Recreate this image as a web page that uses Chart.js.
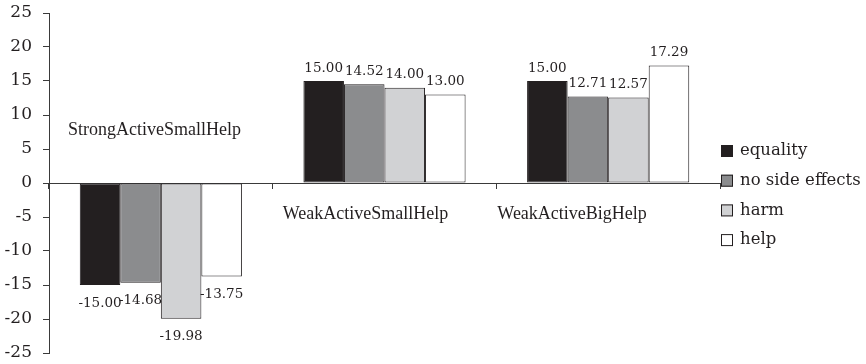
<!DOCTYPE html>
<html>
<head>
<meta charset="utf-8">
<script src="https://cdn.jsdelivr.net/npm/chart.js@4/dist/chart.umd.min.js"></script>
<style>
  html, body { margin: 0; padding: 0; background: #ffffff; }
  #wrap { width: 866px; height: 364px; }
</style>
</head>
<body>
<div id="wrap"><canvas id="c" width="866" height="364"></canvas></div>
<script>
// Condition names along the category axis
const categories = ['StrongActiveSmallHelp', 'WeakActiveSmallHelp', 'WeakActiveBigHelp'];

// One series per principle
const seriesNames = ['equality', 'no side effects', 'harm', 'help'];
const equality      = [-15.00, 15.00, 15.00];
const noSideEffects = [-14.68, 14.52, 12.71];
const harm          = [-19.98, 14.00, 12.57];
const help          = [-13.75, 13.00, 17.29];

// Value axis ticks
const yTicks = [-25, -20, -15, -10, -5, 0, 5, 10, 15, 20, 25];

const fills = ['#231f20', '#8b8c8e', '#d1d2d4', '#ffffff'];
const ink = '#231f20';
const serifNum = '"DejaVu Serif", serif';
const serifText = '"Liberation Serif", "Times New Roman", serif';

const seriesValues = [equality, noSideEffects, harm, help];

// Value labels at the end of each bar
const valueLabels = {
  id: 'valueLabels',
  afterDatasetsDraw(chart) {
    const ctx = chart.ctx;
    ctx.save();
    ctx.font = '13.5px ' + serifNum;
    ctx.fillStyle = ink;
    ctx.textAlign = 'center';
    ctx.textBaseline = 'middle';
    chart.data.datasets.forEach((ds, i) => {
      chart.getDatasetMeta(i).data.forEach((bar, j) => {
        const v = ds.data[j];
        const y = v >= 0 ? bar.y - 13 : bar.y + 18;
        ctx.fillText(v.toFixed(2), bar.x, y);
      });
    });
    ctx.restore();
  }
};

// Category names, placed inside the plot next to each group
const categoryNames = {
  id: 'categoryNames',
  afterDraw(chart, args, opts) {
    const ctx = chart.ctx;
    const xs = chart.scales.x, ys = chart.scales.y;
    const half = (xs.getPixelForValue(1) - xs.getPixelForValue(0)) / 2;
    ctx.save();
    ctx.font = '18px ' + serifText;
    ctx.fillStyle = ink;
    ctx.textAlign = 'left';
    ctx.textBaseline = 'alphabetic';
    categories.forEach((name, i) => {
      const left = xs.getPixelForValue(i) - half + opts.dx[i];
      ctx.fillText(name, left, ys.getPixelForValue(opts.baseline[i]));
    });
    ctx.restore();
  }
};

// Legend to the right of the plot
const sideLegend = {
  id: 'sideLegend',
  afterDraw(chart, args, opts) {
    const ctx = chart.ctx;
    const x0 = chart.chartArea.right + opts.gap;
    ctx.save();
    ctx.font = '16.5px ' + serifNum;
    ctx.textBaseline = 'middle';
    ctx.textAlign = 'left';
    chart.data.datasets.forEach((ds, i) => {
      const cy = opts.top + i * opts.step;
      ctx.fillStyle = ds.backgroundColor;
      ctx.fillRect(x0, cy - 6, 12, 12);
      ctx.strokeStyle = ink;
      ctx.lineWidth = 1;
      ctx.strokeRect(x0 + 0.5, cy - 5.5, 11, 11);
      ctx.fillStyle = ink;
      ctx.fillText(ds.label, x0 + 19, cy);
    });
    ctx.restore();
  }
};

new Chart(document.getElementById('c'), {
  type: 'bar',
  data: {
    labels: categories,
    datasets: seriesNames.map((name, i) => ({
      label: name,
      data: seriesValues[i],
      backgroundColor: fills[i],
      borderColor: ink,
      borderWidth: 1,
      borderSkipped: false,
      categoryPercentage: 0.725,
      barPercentage: 1.0
    }))
  },
  options: {
    responsive: false,
    animation: false,
    events: [],
    layout: { padding: { top: 13, bottom: 11, left: 0, right: 146 } },
    plugins: {
      legend: { display: false },
      tooltip: { enabled: false },
      categoryNames: { dx: [19, 10, 1], baseline: [7.06, -5.3, -5.3] },
      sideLegend: { gap: 1, top: 151, step: 29.7 }
    },
    scales: {
      x: {
        position: { y: 0 },
        grid: {
          offset: true,
          drawOnChartArea: false,
          drawTicks: true,
          tickLength: 5,
          color: '#3a3a3a'
        },
        border: { display: true, color: '#3a3a3a', width: 1 },
        ticks: { display: false }
      },
      y: {
        min: -25,
        max: 25,
        afterFit(scale) {
          scale.width = 49;
          scale.paddingTop = 0;
          scale.paddingBottom = 0;
        },
        afterBuildTicks(scale) { scale.ticks = yTicks.map(v => ({ value: v })); },
        grid: {
          drawOnChartArea: false,
          drawTicks: true,
          tickLength: 6,
          color: '#3a3a3a'
        },
        border: { display: true, color: '#3a3a3a', width: 1 },
        ticks: {
          padding: 11,
          color: ink,
          font: { family: serifNum, size: 17 }
        }
      }
    }
  },
  plugins: [valueLabels, categoryNames, sideLegend]
});
</script>
</body>
</html>
